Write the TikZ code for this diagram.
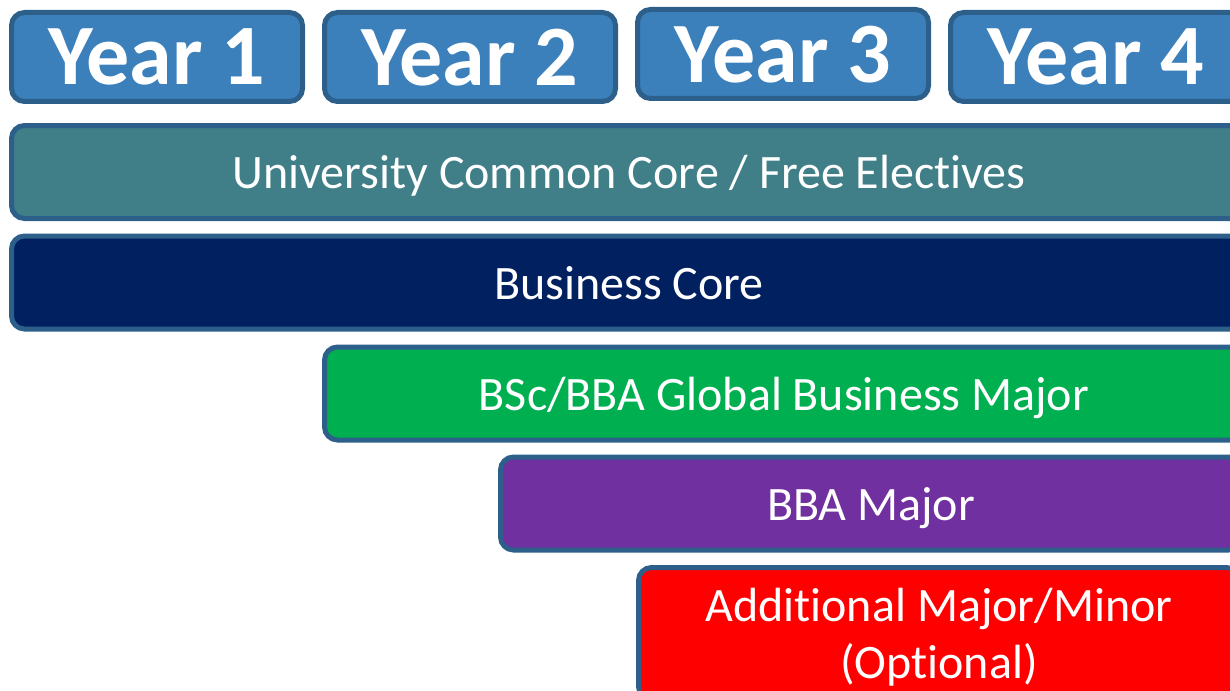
\documentclass[tikz,border=0pt]{standalone}
\usepackage{fontspec}
\setmainfont{Carlito}[Ligatures=NoCommon]
\usetikzlibrary{positioning}

\definecolor{yearblue}{RGB}{59,128,187}
\definecolor{edgeblue}{RGB}{44,95,138}
\definecolor{coreteal}{RGB}{64,126,136}
\definecolor{corenavy}{RGB}{0,32,96}
\definecolor{majorgreen}{RGB}{0,176,80}
\definecolor{majorpurple}{RGB}{112,48,160}
\definecolor{optred}{RGB}{255,0,0}

% keep t and i apart (Carlito joins them)
\newcommand{\ti}{t\kern0pt i}

\begin{document}
\begin{tikzpicture}[x=1pt,y=-1pt,node distance=22pt,
    box/.style={draw=edgeblue,line width=5pt,rounded corners=13pt,
                text=white,inner sep=0pt,outer sep=0pt},
    year box/.style={box,fill=yearblue,minimum width=291pt,minimum height=89pt,
                text depth=0pt,font=\fontsize{86}{90}\selectfont\bfseries},
    band/.style={box,minimum height=93pt,text depth=0pt,
                font=\fontsize{48}{57}\selectfont}]

  \useasboundingbox (0,0) rectangle (1230,690);
  \clip (0,0) rectangle (1230,690);

  % year headers
  \node[year box] (Y1) at (157,57) {Year 1};
  \node[year box] (Y2) [right=of Y1] {Year 2};
  \node[year box] (Y3) [right=of Y2, yshift=3pt] {Year 3};
  \node[year box] (Y4) [right=of Y3, yshift=-3pt] {Year 4};

  % programme bands
  \node[band,fill=coreteal,minimum width=1235pt] (UCC) at (629,172)
    {University Common Core / Free Elec\ti ves};
  \node[band,fill=corenavy,minimum width=1235pt] (BC) at (629,282.5)
    {Business Core};
  \node[band,fill=majorgreen,minimum width=919pt] (GBM) at (784,393.5)
    {BSc/BBA Global Business Major};
  \node[band,fill=majorpurple,minimum width=741pt] (BBA) at (871,503.5)
    {BBA Major};
  \node[band,fill=optred,minimum width=601pt,minimum height=132pt,
        align=center] (AMM) at (939,633.5)
    {Addi\ti onal Major/Minor\\(Op\ti onal)};
\end{tikzpicture}
\end{document}
